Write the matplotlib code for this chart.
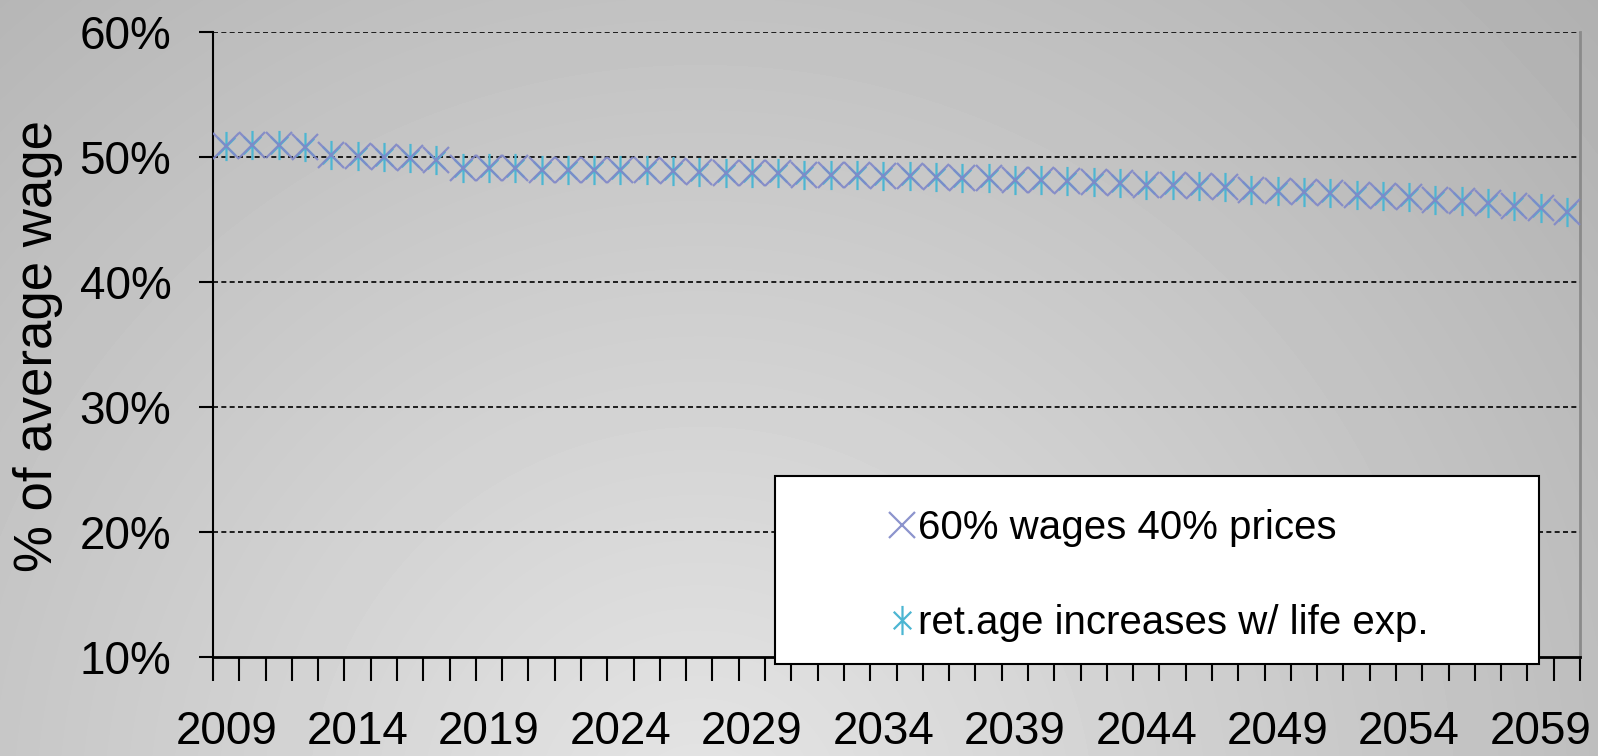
import matplotlib
matplotlib.use("Agg")
import matplotlib.pyplot as plt
import numpy as np
from matplotlib.path import Path
from matplotlib.patches import Rectangle

years = list(range(2009, 2061))
wages_prices = [
    50.9, 51.0, 51.0, 50.8, 50.2, 50.1, 50.0, 49.9, 49.8, 49.1,
    49.1, 49.1, 49.0, 49.0, 49.0, 49.0, 49.0, 48.9, 48.8, 48.7,
    48.7, 48.7, 48.6, 48.6, 48.6, 48.5, 48.5, 48.4, 48.3, 48.3,
    48.2, 48.2, 48.1, 48.0, 47.9, 47.8, 47.8, 47.7, 47.6, 47.4,
    47.3, 47.2, 47.1, 47.0, 46.9, 46.8, 46.6, 46.5, 46.3, 46.1,
    45.9, 45.6,
]
ret_age = [
    50.9, 51.0, 51.0, 50.8, 50.2, 50.1, 50.0, 49.9, 49.8, 49.1,
    49.1, 49.1, 49.0, 49.0, 49.0, 49.0, 49.0, 48.9, 48.8, 48.7,
    48.7, 48.7, 48.6, 48.6, 48.6, 48.5, 48.5, 48.4, 48.3, 48.3,
    48.2, 48.2, 48.1, 48.0, 47.9, 47.8, 47.8, 47.7, 47.6, 47.4,
    47.3, 47.2, 47.1, 47.0, 46.9, 46.8, 46.6, 46.5, 46.3, 46.1,
    45.9, 45.6,
]
labels = ["60% wages 40% prices", "ret.age increases w/ life exp."]
y_ticks = [10, 20, 30, 40, 50, 60]

FONT = ["Liberation Sans", "DejaVu Sans"]
W, H = 1598, 756

# excel-style asterisk: an X with a vertical bar through it
asterisk = Path(
    [(0, -1), (0, 1), (-0.6, -0.6), (0.6, 0.6), (-0.6, 0.6), (0.6, -0.6)],
    [Path.MOVETO, Path.LINETO, Path.MOVETO, Path.LINETO, Path.MOVETO, Path.LINETO],
)

fig = plt.figure(figsize=(W / 100, H / 100), dpi=100)

# soft grey radial background
bg = fig.add_axes([0, 0, 1, 1])
yy, xx = np.mgrid[0:H, 0:W]
dist = np.hypot(xx - 700, yy - 820)
shade = 0.90 - 0.21 * dist / 1216
bg.imshow(shade, cmap="gray", vmin=0, vmax=1, aspect="auto", extent=(0, 1, 0, 1))
bg.axis("off")

ax = fig.add_axes([213 / W, 1 - 657 / H, 1367 / W, 625 / H])
ax.set_facecolor("none")

x = np.arange(len(years))
l1, = ax.plot(x, wages_prices, linestyle="none", marker="x", markersize=19,
              markeredgewidth=1.6, color="#8088c8", alpha=0.9, zorder=4)
l2, = ax.plot(x, ret_age, linestyle="none", marker=asterisk, markersize=21,
              markeredgewidth=1.6, color="#4cb6d2", zorder=3)

ax.set_xlim(-0.5, len(years) - 0.5)
ax.set_ylim(10, 60)

ax.set_yticks(y_ticks)
ax.set_yticklabels([f"{v}%" for v in y_ticks], family=FONT, fontsize=33)
ax.tick_params(axis="y", length=10, width=1.5, pad=20, color="black")

ax.set_xticks(x[::5])
ax.set_xticklabels([str(years[i]) for i in x[::5]], family=FONT, fontsize=33)
ax.set_xticks(np.arange(-0.5, len(years)), minor=True)
ax.tick_params(axis="x", which="major", length=0, pad=38)
ax.tick_params(axis="x", which="minor", length=17, width=1.5, color="black")

for v in y_ticks[1:]:
    ax.axhline(v, color="black", linewidth=1.2, dashes=(3, 2), zorder=1)

ax.spines["top"].set_visible(False)
ax.spines["left"].set_linewidth(1.5)
ax.spines["bottom"].set_linewidth(2)
ax.spines["right"].set_color("#8a8a8a")
ax.spines["right"].set_linewidth(2)

fig.text(38 / W, 1 - 346 / H, "% of average wage", rotation=90,
         ha="center", va="center", fontsize=38, family=FONT)

# legend box with its entries set well to the right of the left border
box = Rectangle((775 / W, 1 - 664 / H), 764 / W, 188 / H,
                transform=fig.transFigure, facecolor="white",
                edgecolor="black", linewidth=1.5, zorder=5, clip_on=False)
ax.add_patch(box)
leg = ax.legend([l1, l2], labels, loc="upper left",
                bbox_to_anchor=(872 / W, 1 - 489 / H),
                bbox_transform=fig.transFigure, frameon=False, borderpad=0,
                handlelength=0.5, handletextpad=0.15, labelspacing=1.42,
                prop={"family": FONT, "size": 29})
leg.set_zorder(6)

fig.savefig("out.png", dpi=100)
